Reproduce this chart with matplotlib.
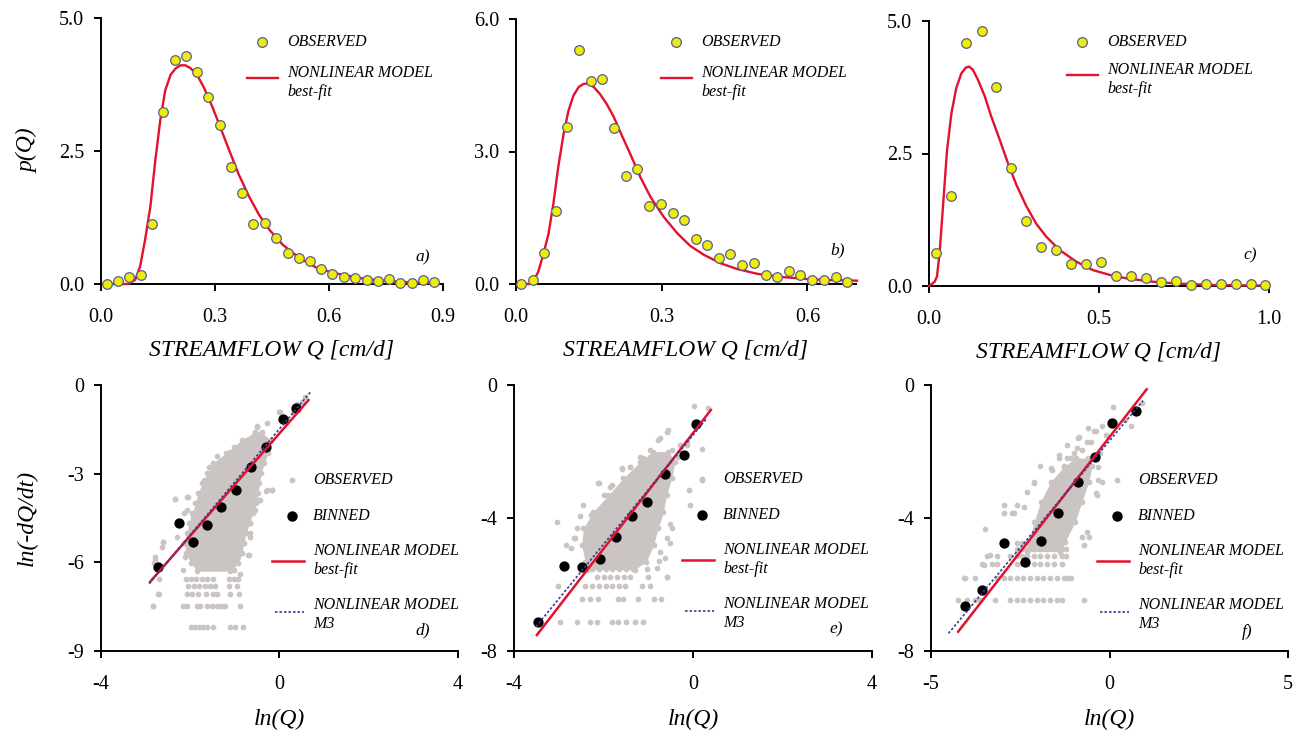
import matplotlib
matplotlib.use("Agg")
import matplotlib.pyplot as plt
from matplotlib.lines import Line2D

plt.rcParams['font.family'] = ['Liberation Serif', 'DejaVu Serif']
plt.rcParams['axes.unicode_minus'] = False

YELLOW = '#eeee00'
EDGE = '#5b5b9c'
RED = '#e3112d'
BLUE = '#3a3a95'
GRAY = '#cac5c3'

# ---- top row: p(Q) ----
qa_obs = [0.015, 0.044, 0.074, 0.105, 0.134, 0.163, 0.194, 0.224, 0.253, 0.282,
          0.312, 0.341, 0.371, 0.401, 0.431, 0.461, 0.491, 0.521, 0.550, 0.580,
          0.609, 0.639, 0.669, 0.699, 0.728, 0.758, 0.788, 0.818, 0.847, 0.876]
pa_obs = [0.0, 0.06, 0.14, 0.16, 1.125, 3.225, 4.21, 4.29, 3.98, 3.51,
          2.98, 2.19, 1.71, 1.13, 1.14, 0.86, 0.59, 0.49, 0.44, 0.275,
          0.18, 0.13, 0.12, 0.08, 0.06, 0.10, 0.01, 0.02, 0.07, 0.04]
qa_fit = [0.015, 0.072, 0.090, 0.103, 0.116, 0.130, 0.143, 0.156, 0.169, 0.183,
          0.196, 0.209, 0.222, 0.235, 0.253, 0.271, 0.293, 0.310, 0.337, 0.363,
          0.390, 0.416, 0.443, 0.478, 0.522, 0.566, 0.610, 0.699, 0.787, 0.875]
pa_fit = [0.0, 0.0, 0.08, 0.33, 0.83, 1.46, 2.33, 3.08, 3.64, 3.93,
          4.05, 4.11, 4.11, 4.06, 3.93, 3.69, 3.33, 3.02, 2.52, 2.05,
          1.64, 1.30, 1.02, 0.74, 0.49, 0.31, 0.21, 0.09, 0.04, 0.02]

qb_obs = [0.010, 0.034, 0.058, 0.082, 0.106, 0.130, 0.155, 0.178, 0.202, 0.226,
          0.250, 0.274, 0.298, 0.323, 0.346, 0.370, 0.394, 0.418, 0.441, 0.466,
          0.489, 0.514, 0.537, 0.562, 0.585, 0.610, 0.634, 0.658, 0.681]
pb_obs = [0.0, 0.10, 0.70, 1.66, 3.55, 5.30, 4.60, 4.64, 3.53, 2.45,
          2.61, 1.76, 1.82, 1.60, 1.44, 1.01, 0.885, 0.585, 0.67, 0.435,
          0.465, 0.195, 0.165, 0.29, 0.20, 0.08, 0.10, 0.15, 0.045]
qb_fit = [0.010, 0.029, 0.036, 0.046, 0.056, 0.067, 0.077, 0.087, 0.098, 0.108,
          0.118, 0.129, 0.139, 0.147, 0.160, 0.173, 0.187, 0.201, 0.218, 0.235,
          0.256, 0.277, 0.304, 0.332, 0.359, 0.387, 0.421, 0.455, 0.497, 0.545,
          0.614, 0.702]
pb_fit = [0.0, 0.0, 0.06, 0.285, 0.66, 1.14, 1.82, 2.65, 3.40, 3.92,
          4.26, 4.46, 4.53, 4.54, 4.46, 4.30, 4.07, 3.79, 3.36, 2.95,
          2.42, 1.97, 1.52, 1.15, 0.86, 0.66, 0.47, 0.34, 0.23, 0.16,
          0.10, 0.075]

qc_obs = [0.022, 0.066, 0.110, 0.155, 0.198, 0.242, 0.285, 0.329, 0.373, 0.418,
          0.462, 0.506, 0.550, 0.594, 0.637, 0.681, 0.726, 0.770, 0.814, 0.858,
          0.902, 0.946, 0.989]
pc_obs = [0.63, 1.70, 4.59, 4.82, 3.76, 2.23, 1.22, 0.74, 0.68, 0.42,
          0.41, 0.46, 0.18, 0.18, 0.16, 0.08, 0.09, 0.01, 0.04, 0.04,
          0.04, 0.04, 0.01]
qc_fit = [0.0, 0.0167, 0.0235, 0.031, 0.041, 0.053, 0.066, 0.080, 0.095, 0.108,
          0.118, 0.129, 0.144, 0.164, 0.183, 0.208, 0.232, 0.257, 0.286, 0.316,
          0.345, 0.384, 0.433, 0.482, 0.531, 0.580, 0.659, 0.737, 0.835, 1.0]
pc_fit = [0.0, 0.08, 0.18, 0.615, 1.49, 2.56, 3.26, 3.73, 4.01, 4.12,
          4.14, 4.08, 3.89, 3.58, 3.20, 2.76, 2.32, 1.91, 1.51, 1.17,
          0.93, 0.68, 0.46, 0.30, 0.21, 0.145, 0.08, 0.044, 0.019, 0.006]

# ---- bottom row: recession ln(-dQ/dt) vs ln(Q) ----
# dense core of the observed cloud: rows (y) with left/right x extents
d_core_y = [-1.60, -1.86, -2.31, -2.65, -2.99, -3.33, -3.66, -4.00, -4.34, -4.68,
            -5.02, -5.36, -5.69, -6.03, -6.30]
d_core_l = [-0.55, -0.85, -1.20, -1.50, -1.62, -1.73, -1.83, -1.88, -1.96, -2.03,
            -2.07, -2.13, -2.10, -1.98, -1.85]
d_core_r = [-0.40, -0.20, -0.26, -0.34, -0.41, -0.45, -0.48, -0.52, -0.60, -0.67,
            -0.75, -0.80, -0.84, -0.92, -1.10]
d_pts_x = [0.58, 0.50, 0.31, 0.16, -0.02, -0.28, -0.51, -0.58, -0.73, -1.03,
           -1.11, -1.41, -1.26, -1.59, -1.70, -2.04, -2.34, -2.08, -1.93, -2.60,
           -2.79, -2.75, -2.71, -2.73, -2.83, -0.17, -0.31, -0.43, -0.58, -0.66,
           -0.66, -0.70, -2.12, -2.17, -1.03, -0.88,
           0.40, 0.02, -0.50, -0.46, -0.87, -0.98, -1.33, -1.51, -2.07, -2.35,
           -1.89, -2.15, -2.30, -2.60, -2.63, -2.78, -2.82, -0.28, -0.16, -0.46,
           -0.54, -0.69, -0.65,
           -2.10, -1.98, -1.86, -1.74, -1.62, -1.50, -1.14, -1.02, -0.92,
           -2.04, -1.92, -1.80, -1.68, -1.56, -1.44, -1.14, -0.95,
           -2.71, -2.08, -1.95, -1.82, -1.65, -1.50, -1.41, -1.11, -0.90,
           -2.83, -2.17, -2.08, -1.85, -1.78, -1.63, -1.52, -1.41, -1.30, -1.22, -0.88,
           -1.99, -1.90, -1.81, -1.72, -1.63, -1.48, -1.11, -0.99, -0.81]
d_pts_y = [-0.40, -0.56, -0.96, -1.19, -0.90, -1.30, -1.41, -1.69, -1.86, -2.11,
           -2.26, -2.40, -2.54, -2.77, -3.22, -3.78, -3.87, -4.23, -4.46, -5.30,
           -5.93, -6.15, -6.58, -7.08, -7.48, -3.56, -3.58, -3.89, -4.23, -4.68,
           -5.14, -5.76, -5.81, -6.26, -6.26, -6.38,
           -0.64, -0.90, -1.39, -1.69, -2.03, -2.31, -2.88, -3.10, -3.78, -3.86,
           -4.00, -4.34, -5.13, -5.30, -5.47, -5.81, -6.03, -3.55, -3.55, -3.89,
           -4.23, -5.75, -5.02,
           -6.58, -6.58, -6.58, -6.58, -6.58, -6.58, -6.58, -6.58, -6.58,
           -6.81, -6.81, -6.81, -6.81, -6.81, -6.81, -6.81, -6.81,
           -7.08, -7.08, -7.08, -7.08, -7.08, -7.08, -7.08, -7.08, -7.08,
           -7.48, -7.48, -7.48, -7.48, -7.48, -7.48, -7.48, -7.48, -7.48, -7.48, -7.48,
           -8.18, -8.18, -8.18, -8.18, -8.18, -8.18, -8.18, -8.18, -8.18]
d_bin_x = [0.36, 0.08, -0.31, -0.63, -0.97, -1.30, -1.62, -1.93, -2.25, -2.73]
d_bin_y = [-0.79, -1.15, -2.10, -2.76, -3.55, -4.12, -4.74, -5.30, -4.66, -6.15]
d_fit_x = [-2.90, 0.65]
d_fit_y = [-6.66, -0.51]
d_m3_x = [-2.92, 0.70]
d_m3_y = [-6.72, -0.23]

e_core_y = [-2.00, -2.31, -2.81, -3.31, -3.81, -4.31, -4.81, -5.31, -5.55]
e_core_l = [-0.90, -1.18, -1.56, -1.89, -2.23, -2.45, -2.49, -2.41, -2.37]
e_core_r = [-0.55, -0.40, -0.48, -0.59, -0.66, -0.78, -0.88, -1.04, -1.30]
e_pts_x = [0.02, 0.19, 0.19, -0.29, -0.55, -0.74, -0.96, -1.18, -1.41, -1.59,
           -1.82, -2.12, -2.45, -2.67, -3.05, -2.84, -3.01, -2.53, -2.64, -2.09,
           -1.86, -1.59, -1.41, -1.11, -0.78, -0.59, 0.34, -0.08, -0.07, -0.51,
           -0.52, -0.59, -0.75, -0.14, -0.33, -0.48,
           -0.14, -0.96, -2.00, -2.27, -2.60, -2.72, -0.74, -0.63, -0.59, -0.48, -0.80,
           -2.41, -2.25, -2.10, -1.95, -1.80, -1.65, -1.50, -1.33, -1.03,
           -2.15, -2.00, -1.85, -1.70, -1.55, -1.41, -1.00, -0.57,
           -2.41, -2.26, -2.10, -1.95, -1.80, -1.65, -1.52, -1.15, -0.96,
           -2.49, -2.30, -2.12, -1.67, -1.56, -1.22, -0.87, -0.72,
           -2.97, -2.60, -2.30, -2.15, -1.82, -1.67, -1.50, -1.30, -1.11]
e_pts_y = [-0.62, -1.91, -2.86, -1.80, -1.35, -1.60, -1.95, -2.16, -2.46, -2.51,
           -3.01, -2.96, -3.61, -4.61, -4.11, -4.81, -6.05, -3.93, -4.61, -2.96,
           -3.06, -2.53, -2.48, -2.21, -1.65, -1.40, -0.70, -3.16, -3.61, -4.19,
           -4.76, -5.76, -5.30, -1.70, -2.16, -1.96,
           -1.80, -2.16, -3.31, -3.91, -4.31, -4.91, -5.01, -5.21, -4.61, -4.31, -5.51,
           -5.54, -5.54, -5.54, -5.54, -5.54, -5.54, -5.54, -5.54, -5.54,
           -5.76, -5.76, -5.76, -5.76, -5.76, -5.76, -5.76, -5.76,
           -6.05, -6.05, -6.05, -6.05, -6.05, -6.05, -6.05, -6.05, -6.05,
           -6.45, -6.45, -6.45, -6.45, -6.45, -6.45, -6.45, -6.45,
           -7.14, -7.14, -7.14, -7.14, -7.14, -7.14, -7.14, -7.14, -7.14]
e_bin_x = [0.06, -0.19, -0.63, -1.02, -1.37, -1.72, -2.08, -2.47, -2.88, -3.47]
e_bin_y = [-1.18, -2.11, -2.67, -3.51, -3.94, -4.58, -5.23, -5.46, -5.45, -7.14]
e_fit_x = [-3.49, 0.40]
e_fit_y = [-7.52, -0.75]
e_m3_x = [-3.51, 0.31]
e_m3_y = [-7.27, -1.00]

f_core_y = [-2.20, -2.45, -2.91, -3.51, -4.11, -4.71, -5.01]
f_core_l = [-0.95, -1.27, -1.65, -1.93, -2.11, -2.26, -2.30]
f_core_r = [-0.60, -0.49, -0.58, -0.77, -0.96, -1.24, -1.40]
f_pts_x = [0.09, 0.59, 0.91, 0.44, -0.39, -0.09, -0.88, -0.53, -0.76, -1.09,
           -1.42, -1.94, -1.62, -2.12, -2.40, -2.96, -2.96, -2.68, -3.48, -3.34,
           -3.57, -0.76, -0.57, -0.39, -0.33, -1.28, -0.99, -0.28, -0.33, -0.60,
           -1.20, -0.95,
           -0.20, -0.43, -0.86, -0.63, -0.90, -1.42, -1.19, -1.65, -2.12, -2.31,
           -2.59, -2.73, -3.52, -4.08, -0.71, -0.62, -0.34, -0.20,
           -2.59, -2.45, -2.31, -2.12, -1.94, -1.75, -1.56, -1.33,
           -2.59, -2.45, -2.31, -2.12, -1.94, -1.75, -1.56, -1.33, -1.23,
           -3.43, -3.15, -2.78, -2.59, -2.45, -2.31, -2.12, -1.94, -1.75, -1.56, -1.33, -1.23,
           -3.29, -3.15, -2.59, -2.45, -2.31, -2.12, -1.94, -1.75, -1.56, -1.33,
           -4.04, -3.76, -3.15, -2.96, -2.78, -2.59, -2.41, -2.22, -2.03, -1.85,
           -1.66, -1.47, -1.28, -1.18, -1.07,
           -4.23, -4.00, -3.76, -3.62, -3.20, -2.78, -2.59, -2.41, -2.22, -2.03,
           -1.85, -1.66, -1.47, -1.33, -0.71]
f_pts_y = [-0.67, -1.23, -0.53, -1.05, -1.38, -1.50, -1.60, -1.70, -1.95, -2.21,
           -2.21, -2.43, -2.56, -2.96, -3.66, -3.61, -3.86, -3.86, -4.33, -5.11,
           -5.39, -4.56, -4.56, -3.26, -2.86, -2.46, -2.06, -2.06, -2.46, -1.30,
           -1.80, -2.40,
           -1.22, -1.39, -1.56, -1.70, -1.90, -2.10, -2.21, -2.51, -2.91, -3.21,
           -3.61, -3.86, -5.41, -5.81, -4.81, -4.41, -3.31, -2.91,
           -4.74, -4.74, -4.74, -4.74, -4.74, -4.74, -4.74, -4.74,
           -4.93, -4.93, -4.93, -4.93, -4.93, -4.93, -4.93, -4.93, -4.93,
           -5.13, -5.13, -5.13, -5.13, -5.13, -5.13, -5.13, -5.13, -5.13, -5.13, -5.13, -5.13,
           -5.39, -5.39, -5.39, -5.39, -5.39, -5.39, -5.39, -5.39, -5.39, -5.39,
           -5.81, -5.81, -5.81, -5.81, -5.81, -5.81, -5.81, -5.81, -5.81, -5.81,
           -5.81, -5.81, -5.81, -5.81, -5.81,
           -6.47, -6.47, -6.47, -6.47, -6.47, -6.47, -6.47, -6.47, -6.47, -6.47,
           -6.47, -6.47, -6.47, -6.47, -6.47]
f_bin_x = [-4.06, -3.56, -2.96, -2.38, -1.91, -1.44, -0.88, -0.41, 0.07, 0.74]
f_bin_y = [-6.64, -6.16, -4.75, -5.33, -4.68, -3.86, -2.91, -2.16, -1.15, -0.79]
f_fit_x = [-4.24, 1.04]
f_fit_y = [-7.42, -0.13]
f_m3_x = [-4.51, 0.94]
f_m3_y = [-7.47, -0.47]

W, H = 1300, 732


def rect(l, r, t, b):
    return [l / W, 1 - b / H, (r - l) / W, (b - t) / H]


def style(ax, xlim, ylim, xticks, yticks, fmt):
    ax.set_xlim(*xlim)
    ax.set_ylim(*ylim)
    ax.set_xticks(xticks)
    ax.set_yticks(yticks)
    ax.set_xticklabels([fmt.format(v) for v in xticks])
    ax.set_yticklabels([fmt.format(v) for v in yticks])
    for s in ['top', 'right']:
        ax.spines[s].set_visible(False)
    for s in ['left', 'bottom']:
        ax.spines[s].set_linewidth(1.4)
    ax.tick_params(direction='out', length=5, width=1.4, labelsize=14.5)
    ax.tick_params(axis='x', pad=12)
    ax.tick_params(axis='y', pad=7)


fig = plt.figure(figsize=(13, 7.32), dpi=100)


# hand-placed legend pieces, positions in figure pixels from the top-left
def key_marker(x, y, **kw):
    fig.add_artist(Line2D([x / W], [1 - y / H], transform=fig.transFigure,
                          ls='none', marker='o', **kw))


def key_line(x0, x1, y, **kw):
    fig.add_artist(Line2D([x0 / W, x1 / W], [1 - y / H, 1 - y / H],
                          transform=fig.transFigure, **kw))


def key_text(x, y, s):
    fig.text(x / W, 1 - y / H, s, ha='left', va='center', style='italic', fontsize=11.5)


top = [
    (rect(101, 443, 18, 284), qa_obs, pa_obs, qa_fit, pa_fit,
     (0, 0.9), (0, 5), [0, 0.3, 0.6, 0.9], [0, 2.5, 5.0], 'a)', (247, 42, 78), (0.94, 0.10)),
    (rect(516, 856, 19, 284), qb_obs, pb_obs, qb_fit, pb_fit,
     (0, 0.7), (0, 6), [0, 0.3, 0.6], [0, 3.0, 6.0], 'b)', (661, 42, 78), (0.947, 0.128)),
    (rect(929, 1269, 21, 286), qc_obs, pc_obs, qc_fit, pc_fit,
     (0, 1.0), (0, 5), [0, 0.5, 1.0], [0, 2.5, 5.0], 'c)', (1067, 42, 75), (0.944, 0.117)),
]

for i, (r, qo, po, qf, pf, xl, yl, xt, yt, tag, lg, tpos) in enumerate(top):
    ax = fig.add_axes(r)
    ax.plot(qf, pf, color=RED, lw=1.7, zorder=3, clip_on=False)
    ax.scatter(qo, po, s=48, facecolor=YELLOW, edgecolor=EDGE, linewidth=0.9,
               zorder=4, clip_on=False)
    style(ax, xl, yl, xt, yt, '{:.1f}')
    ax.set_xlabel('STREAMFLOW Q [cm/d]', fontsize=17, style='italic', labelpad=9)
    if i == 0:
        ax.set_ylabel('p(Q)', fontsize=17, style='italic')
        ax.yaxis.set_label_coords(-0.184, 0.5)
    x0, y0, yl2 = lg
    key_marker(x0 + 15, y0, ms=7, mfc=YELLOW, mec=EDGE, mew=0.9)
    key_text(x0 + 40, y0, 'OBSERVED')
    key_line(x0, x0 + 31, yl2, color=RED, lw=1.7)
    key_text(x0 + 40, yl2 - 5, 'NONLINEAR MODEL')
    key_text(x0 + 40, yl2 + 14, 'best-fit')
    ax.text(tpos[0], tpos[1], tag, transform=ax.transAxes, fontsize=12.5,
            style='italic', ha='center', va='center')

bottom = [
    (rect(101, 458, 385, 651), d_core_y, d_core_l, d_core_r, d_pts_x, d_pts_y,
     d_bin_x, d_bin_y, d_fit_x, d_fit_y, d_m3_x, d_m3_y,
     (-4, 4), (-9, 0), [-4, 0, 4], [0, -3, -6, -9], 'd)', (272, 480), (0.90, 0.079)),
    (rect(514, 872, 385, 651), e_core_y, e_core_l, e_core_r, e_pts_x, e_pts_y,
     e_bin_x, e_bin_y, e_fit_x, e_fit_y, e_m3_x, e_m3_y,
     (-4, 4), (-8, 0), [-4, 0, 4], [0, -4, -8], 'e)', (682, 479), (0.90, 0.083)),
    (rect(931, 1288, 385, 651), f_core_y, f_core_l, f_core_r, f_pts_x, f_pts_y,
     f_bin_x, f_bin_y, f_fit_x, f_fit_y, f_m3_x, f_m3_y,
     (-5, 5), (-8, 0), [-5, 0, 5], [0, -4, -8], 'f)', (1097, 480), (0.885, 0.07)),
]

for i, (r, cy, cl, cr, px, py, bx, by, fx, fy, mx, my,
        xl, yl, xt, yt, tag, lg, tpos) in enumerate(bottom):
    ax = fig.add_axes(r)
    ax.fill_betweenx(cy, cl, cr, color=GRAY, lw=0, zorder=1)
    ax.scatter(cl + cr, cy + cy, s=17, color=GRAY, lw=0, zorder=1)
    ax.scatter(px, py, s=17, color=GRAY, lw=0, zorder=1)
    ax.scatter(bx, by, s=55, color='black', lw=0, zorder=3)
    ax.plot(fx, fy, color=RED, lw=1.8, zorder=4)
    ax.plot(mx, my, color=BLUE, lw=1.2, ls=(0, (1.5, 1.2)), zorder=5)
    style(ax, xl, yl, xt, yt, '{:g}')
    ax.set_xlabel('ln(Q)', fontsize=17, style='italic', labelpad=11)
    if i == 0:
        ax.set_ylabel('ln(-dQ/dt)', fontsize=17, style='italic')
        ax.yaxis.set_label_coords(-0.176, 0.5)
    x0, y0 = lg
    key_marker(x0 + 20, y0, ms=4.2, mfc=GRAY, mec='none')
    key_text(x0 + 41, y0, 'OBSERVED')
    key_marker(x0 + 20, y0 + 36, ms=7.5, mfc='black', mec='none')
    key_text(x0 + 41, y0 + 36, 'BINNED')
    key_line(x0, x0 + 32, y0 + 81, color=RED, lw=1.8)
    key_text(x0 + 41, y0 + 71, 'NONLINEAR MODEL')
    key_text(x0 + 41, y0 + 90, 'best-fit')
    key_line(x0 + 3, x0 + 32, y0 + 132, color=BLUE, lw=1.2, ls=(0, (1.5, 1.2)))
    key_text(x0 + 41, y0 + 125, 'NONLINEAR MODEL')
    key_text(x0 + 41, y0 + 144, 'M3')
    ax.text(tpos[0], tpos[1], tag, transform=ax.transAxes, fontsize=12.5,
            style='italic', ha='center', va='center')

fig.savefig('out.png', dpi=100)
